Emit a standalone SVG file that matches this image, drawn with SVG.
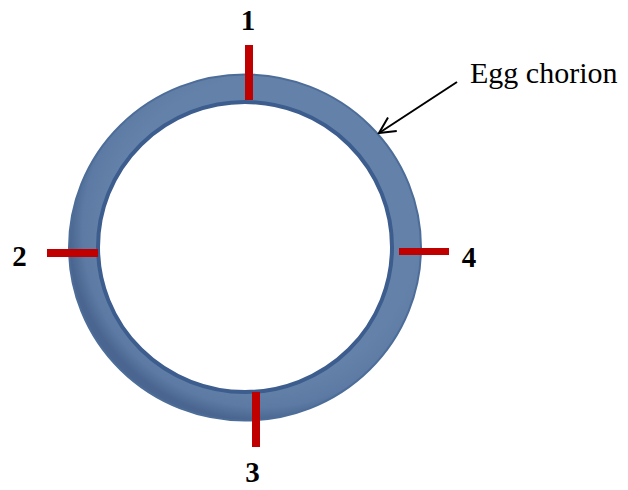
<svg xmlns="http://www.w3.org/2000/svg" width="628" height="490" viewBox="0 0 628 490">
<defs>
<radialGradient id="ringGrad" cx="0.55" cy="0.45" r="0.55">
<stop offset="0.8" stop-color="#6482a9"/>
<stop offset="0.93" stop-color="#5c7aa3"/>
<stop offset="1" stop-color="#4a6690"/>
</radialGradient>
<marker id="arrow" viewBox="0 0 20 20" refX="18" refY="10" markerWidth="20" markerHeight="20" markerUnits="userSpaceOnUse" orient="auto">
<path d="M2,2 L18,10 L2,18" fill="none" stroke="#000" stroke-width="2"/>
</marker>
<style>
.tick{fill:#c00000}
.num{font-family:"Liberation Serif",serif;font-weight:bold;font-size:29px;fill:#000}
.lbl{font-family:"Liberation Serif",serif;font-size:30px;fill:#000}
</style>
</defs>
<g id="chorion">
<ellipse cx="245" cy="247.5" rx="176" ry="173" fill="url(#ringGrad)" stroke="#4d6d99" stroke-width="2"/>
<ellipse cx="245" cy="247" rx="147" ry="145" fill="#ffffff" stroke="#3c5d8d" stroke-width="4"/>
</g>
<g id="marker1">
<rect class="tick" x="245" y="45" width="8" height="55"/>
<text class="num" x="248" y="30" text-anchor="middle">1</text>
</g>
<g id="marker2">
<rect class="tick" x="47" y="249" width="51" height="8"/>
<text class="num" x="19.5" y="266" text-anchor="middle">2</text>
</g>
<g id="marker3">
<rect class="tick" x="252" y="392" width="8" height="55"/>
<text class="num" x="252.5" y="482" text-anchor="middle">3</text>
</g>
<g id="marker4">
<rect class="tick" x="399" y="248" width="50" height="7"/>
<text class="num" x="469" y="267" text-anchor="middle">4</text>
</g>
<g id="label">
<text class="lbl" x="470" y="83">Egg chorion</text>
</g>
<g id="connectors">
<line x1="457" y1="82" x2="379" y2="133" stroke="#000" stroke-width="2" marker-end="url(#arrow)"/>
</g>
</svg>
